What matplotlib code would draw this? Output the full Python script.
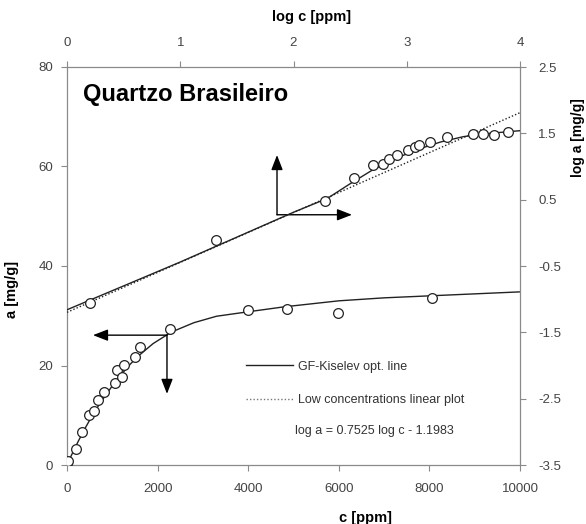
import matplotlib.pyplot as plt
from matplotlib.lines import Line2D

# measured isotherm a vs c (lower, left/bottom axes)
c_ppm = [5, 22, 199, 331, 479, 589, 684, 810, 1066, 1104, 1214, 1252, 1494, 1618,
         2274, 4003, 4849, 5989, 8050]
a_mg = [0.4, 0.8, 3.2, 6.6, 10.0, 10.9, 13.1, 14.6, 16.4, 19.1, 17.7, 20.1, 21.8, 23.8,
        27.3, 31.2, 31.3, 30.5, 33.5]

# GF-Kiselev optimised line, linear scale
fit_c = [0, 100, 250, 400, 550, 700, 850, 1000, 1200, 1400, 1600, 1900, 2300, 2800,
         3300, 4000, 4800, 6000, 7000, 8000, 9000, 10000]
fit_a = [0, 2.0, 4.8, 7.4, 9.8, 12.0, 14.0, 15.9, 18.2, 20.3, 22.1, 24.4, 26.7, 28.6,
         29.9, 30.8, 31.8, 33.0, 33.6, 34.0, 34.4, 34.8]

# same isotherm in log-log (upper, top/right axes)
log_c = [0.203, 1.316, 2.278, 2.534, 2.699, 2.788, 2.846, 2.911, 3.014, 3.073, 3.111,
         3.205, 3.353, 3.588, 3.676, 3.770, 3.897]
log_a = [-1.063, -0.108, 0.480, 0.827, 1.018, 1.042, 1.117, 1.169, 1.244, 1.294, 1.329,
         1.369, 1.445, 1.494, 1.494, 1.470, 1.520]

fit_logc = [0, 1.0, 2.0, 2.3, 2.5, 2.7, 2.9, 3.1, 3.3, 3.5, 3.7, 3.9, 4.0]
fit_loga = [-1.16, -0.44, 0.31, 0.52, 0.74, 0.95, 1.12, 1.26, 1.37, 1.45, 1.495, 1.525, 1.54]

# low concentration linear plot: log a = 0.7525 log c - 1.1983
lin_logc = [0, 4]
lin_loga = [-1.1983, 1.8117]

x_ticks = [0, 2000, 4000, 6000, 8000, 10000]
y_ticks = [0, 20, 40, 60, 80]
top_ticks = [0, 1, 2, 3, 4]
right_ticks = [-3.5, -2.5, -1.5, -0.5, 0.5, 1.5, 2.5]

plt.rcParams['font.family'] = ['Liberation Sans', 'DejaVu Sans']
frame = '#8a8a8a'
tick_col = '#444444'

fig = plt.figure(figsize=(5.86, 5.24), dpi=100)
pos = [67 / 586, 1 - 465 / 524, 453 / 586, 398 / 524]
ax = fig.add_axes(pos)
ax2 = fig.add_axes(pos, frameon=False)

# lower: linear axes
ax.plot(fit_c, fit_a, color='#222222', lw=1.0, zorder=2)
ax.plot(c_ppm, a_mg, 'o', ms=7, mfc='white', mec='#222222', mew=0.9, zorder=3)
ax.set_xlim(0, 10000)
ax.set_ylim(0, 80)
ax.set_xticks(x_ticks)
ax.set_yticks(y_ticks)

# upper: log axes
ax2.plot(lin_logc, lin_loga, color='#222222', lw=1.0, ls=(0, (1, 1.5)), zorder=2)
ax2.plot(fit_logc, fit_loga, color='#222222', lw=1.0, zorder=2)
ax2.plot(log_c, log_a, 'o', ms=7, mfc='white', mec='#222222', mew=0.9, zorder=3)
ax2.set_xlim(0, 4)
ax2.set_ylim(-3.5, 2.5)
ax2.xaxis.tick_top()
ax2.yaxis.tick_right()
ax2.set_xticks(top_ticks)
ax2.set_yticks(right_ticks)
ax2.set_yticklabels([f'{v:g}' for v in right_ticks])

for a in (ax, ax2):
    a.tick_params(direction='out', length=4, width=0.8, colors=frame,
                  labelcolor=tick_col, labelsize=9.5)
ax.tick_params(axis='y', pad=6)
ax.tick_params(axis='x', pad=9)
ax2.tick_params(axis='y', pad=9)
ax2.tick_params(axis='x', pad=9)
for s in ax.spines.values():
    s.set_color(frame)
    s.set_linewidth(0.9)

ax.set_xlabel('c [ppm]', fontsize=10.5, fontweight='bold')
ax.xaxis.set_label_coords(0.66, -0.115)
ax.set_ylabel('a [mg/g]', fontsize=10.5, fontweight='bold')
ax.yaxis.set_label_coords(-0.105, 0.44)
ax2.set_xlabel('log c [ppm]', fontsize=10.5, fontweight='bold')
ax2.xaxis.set_label_position('top')
ax2.xaxis.set_label_coords(0.54, 1.115)
fig.text(578 / 586, 1 - 138 / 524, 'log a [mg/g]', fontsize=10, fontweight='bold',
         rotation=90, ha='center', va='center')

ax.text(0.035, 0.93, 'Quartzo Brasileiro', transform=ax.transAxes,
        fontsize=17, fontweight='bold', va='center', ha='left')

# arrows pointing to the axes each curve belongs to
arrow = dict(arrowstyle='-|>,head_length=0.9,head_width=0.35', color='black',
             lw=1.0, shrinkA=0, shrinkB=0)
up_corner = (4636, 50.3)
ax.annotate('', xy=(4636, 62.3), xytext=up_corner, arrowprops=arrow)
ax.annotate('', xy=(6291, 50.3), xytext=up_corner, arrowprops=arrow)
low_corner = (2207, 26.1)
ax.annotate('', xy=(574, 26.1), xytext=low_corner, arrowprops=arrow)
ax.annotate('', xy=(2207, 14.3), xytext=low_corner, arrowprops=arrow)

handles = [Line2D([], [], color='#222222', lw=1.0),
           Line2D([], [], color='#777777', lw=1.0, ls=(0, (1, 1.5)))]
ax.legend(handles, ['GF-Kiselev opt. line', 'Low concentrations linear plot'],
          loc='upper left', bbox_to_anchor=(0.37, 0.29), frameon=False,
          fontsize=9, handlelength=3.8, handletextpad=0.4, labelspacing=1.7,
          labelcolor='#333333')
ax.text(0.503, 0.085, 'log a = 0.7525 log c - 1.1983', transform=ax.transAxes,
        fontsize=9, color='#333333', va='center', ha='left')

fig.savefig('out.png', dpi=100)
